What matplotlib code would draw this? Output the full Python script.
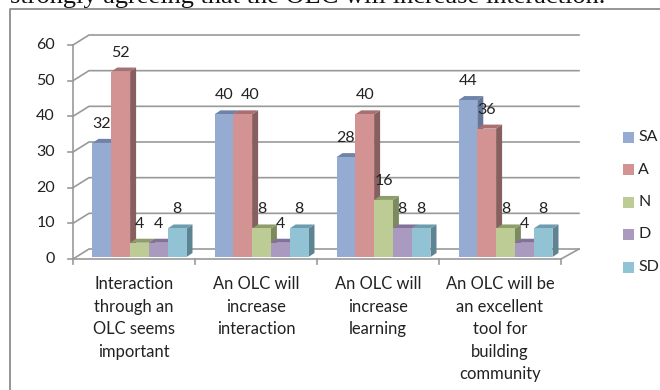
import matplotlib
matplotlib.use("Agg")
import matplotlib.pyplot as plt
from matplotlib.patches import Polygon, Rectangle

# Values
categories = [
    "Interaction\nthrough an\nOLC seems\nimportant",
    "An OLC will\nincrease\ninteraction",
    "An OLC will\nincrease\nlearning",
    "An OLC will be\nan excellent\ntool for\nbuilding\ncommunity",
]
series_names = ["SA", "A", "N", "D", "SD"]
sa = [32, 40, 28, 44]
a = [52, 40, 40, 36]
n = [4, 8, 16, 8]
d = [4, 4, 8, 4]
sd = [8, 8, 8, 8]
y_ticks = [0, 10, 20, 30, 40, 50, 60]

front_colors = ["#95abd1", "#d39393", "#bccc94", "#aa9abf", "#92c3d5"]
top_colors = ["#6f83a8", "#a87070", "#8f9c6c", "#82729a", "#6c9cae"]
side_colors = ["#64779b", "#875f5f", "#7d8a60", "#6f6085", "#5e8493"]
label_color = "#222222"
grid_color = "#999999"
font_size = 11.5

W, H = 660, 390
fig = plt.figure(figsize=(W / 100, H / 100), dpi=100)
plt.rcParams["font.family"] = ["Lato", "DejaVu Sans"]

# plot area in pixels, front plane of the floor
left, right, top, bottom = 73, 561, 45, 259
ax = fig.add_axes([left / W, 1 - bottom / H, (right - left) / W, (bottom - top) / H])
ax.set_xlim(0, 4)
ax.set_ylim(0, 60)
ax.axis("off")

# pixel sizes turned into data units
px_x = 4 / (right - left)
px_y = 60 / (bottom - top)
wall_dx, wall_dy = 16 * px_x, 10 * px_y
bar_dx, bar_dy = 6 * px_x, 4 * px_y
bar_w = 18.8 * px_x
base = 2 * px_y

# gridlines on the back wall and the ticks
for v in y_ticks:
    ax.plot([0, wall_dx, 4 + wall_dx + 2 * px_x], [v, v + wall_dy, v + wall_dy],
            color=grid_color, lw=1.2, clip_on=False, zorder=1)
    ax.plot([-5 * px_x, 0], [v, v], color=grid_color, lw=1.2, clip_on=False, zorder=1)
ax.plot([0, 0], [0, 60], color=grid_color, lw=1.2, clip_on=False, zorder=1)
ax.plot([0, 4, 4 + wall_dx + 2 * px_x], [0, 0, wall_dy], color=grid_color, lw=1.2, clip_on=False, zorder=1)
for i in range(5):
    ax.plot([i, i], [0, -5 * px_y], color=grid_color, lw=1.2, clip_on=False, zorder=1)

for v in y_ticks:
    ax.text(-18 * px_x, v, str(v), ha="right", va="center", fontsize=font_size,
            color=label_color, clip_on=False)

values = [sa, a, n, d, sd]
z = 2
for c in range(len(categories)):
    x0 = c + 0.5 - 2.5 * bar_w + 5.5 * px_x
    for s in range(len(series_names)):
        v = values[s][c]
        x = x0 + s * bar_w
        ax.add_patch(Polygon([(x + bar_w, base), (x + bar_w + bar_dx, base + bar_dy),
                              (x + bar_w + bar_dx, base + v + bar_dy), (x + bar_w, base + v)],
                             fc=side_colors[s], ec="none", clip_on=False, zorder=z))
        ax.add_patch(Polygon([(x, base + v), (x + bar_dx, base + v + bar_dy),
                              (x + bar_w + bar_dx, base + v + bar_dy), (x + bar_w, base + v)],
                             fc=top_colors[s], ec="none", clip_on=False, zorder=z))
        ax.bar(x, v, bar_w, bottom=base, align="edge", color=front_colors[s], clip_on=False, zorder=z + 0.5)
        # the second 40 sits a bit to the right in the picture
        nudge = 7 * px_x if (c == 1 and s == 1) else 0
        ax.text(x + bar_w / 2 + nudge, base + v + 19 * px_y, str(v), ha="center", va="center",
                fontsize=font_size, color=label_color, clip_on=False, zorder=50)
        z += 1

# category labels
for c, label in enumerate(categories):
    ax.text(c + 0.5, -4.9, label, ha="center", va="top", fontsize=11.9, linespacing=1.5,
            color=label_color, clip_on=False)

# legend drawn by hand, spacing follows the picture
legend_y = [137, 170, 202, 234, 267]
for s, name in enumerate(series_names):
    fig.add_artist(Rectangle((623 / W, 1 - (legend_y[s] + 5.5) / H), 11 / W, 11 / H,
                             transform=fig.transFigure, fc=front_colors[s], ec="none"))
    fig.text(638 / W, 1 - legend_y[s] / H, name, ha="left", va="center", fontsize=font_size, color=label_color)

# chart frame, runs off the bottom and right of the crop
fig.add_artist(plt.Line2D([10.5 / W, 10.5 / W, 1], [0, 1 - 8.5 / H, 1 - 8.5 / H],
                          transform=fig.transFigure, color="#8c8c8c", lw=1.3))

# line of body text cut off by the crop
fig.text(10 / W, 1 - 3 / H, "strongly agreeing that the OLC will increase interaction.",
         family="Liberation Serif", fontsize=19, ha="left", va="baseline", color="#111111")

plt.savefig("out.png", dpi=100)
